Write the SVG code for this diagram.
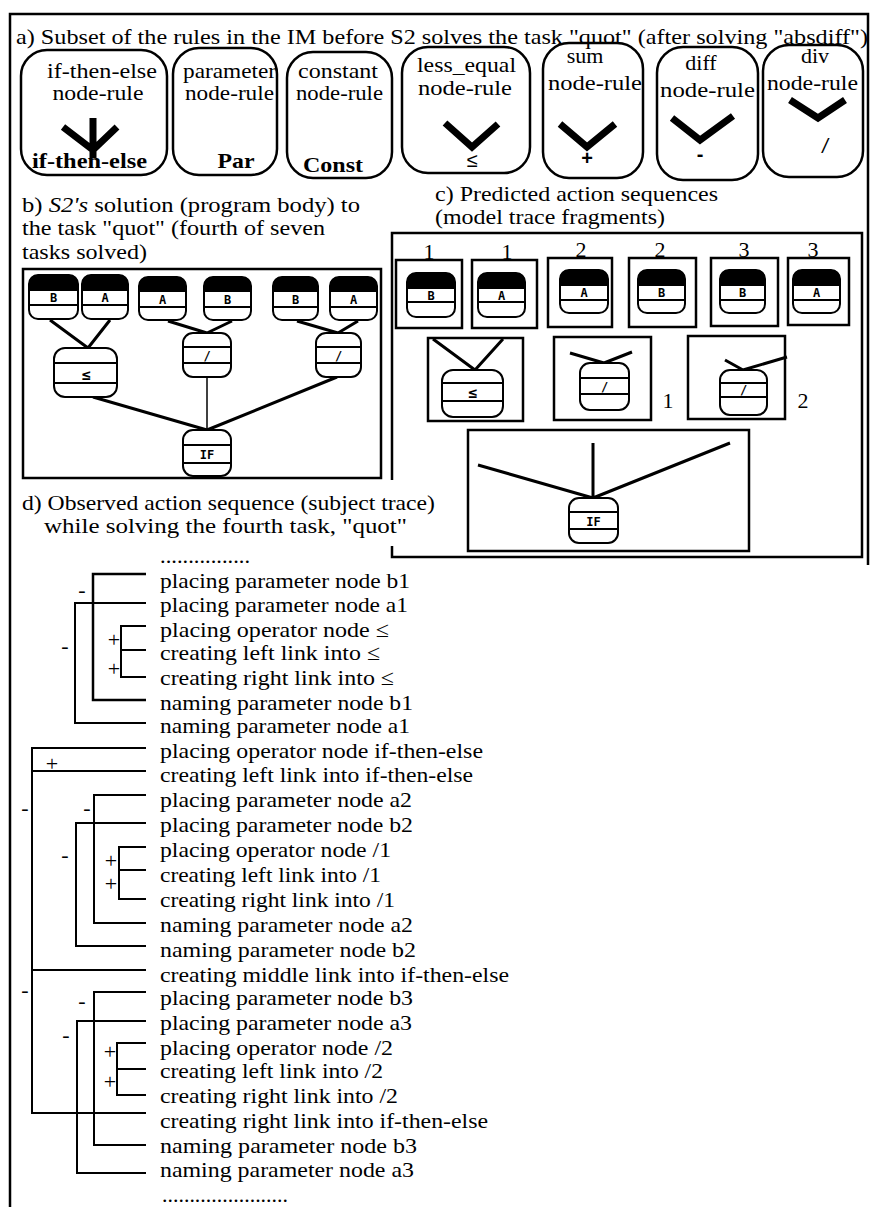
<svg xmlns="http://www.w3.org/2000/svg" width="871" height="1207" viewBox="0 0 871 1207">
<style>
.t{font-family:"Liberation Serif","Times New Roman",serif;font-size:22px;fill:#000}
.bd{font-weight:bold}
.m{text-anchor:middle}
.rule{fill:none;stroke:#000;stroke-width:2.5}
.frame{fill:none;stroke:#000;stroke-width:2.5}
.nd{fill:#fff;stroke:#000;stroke-width:2}
.blk{fill:#000}
.sep{stroke:#000;stroke-width:2}
.lt{font-family:"DejaVu Sans Mono","Liberation Mono",monospace;font-size:12px;font-weight:bold;text-anchor:middle;fill:#000}
.sym{font-family:"Liberation Sans","DejaVu Sans",sans-serif;font-size:20px;text-anchor:middle;fill:#000}
.vv{fill:none;stroke:#000;stroke-width:7}
.ln{fill:none;stroke:#000;stroke-width:3}
.thin{fill:none;stroke:#000;stroke-width:1.5}
.br{fill:none;stroke:#000;stroke-width:2}
.sg{font-family:"Liberation Serif","Times New Roman",serif;font-size:22px;text-anchor:middle;fill:#000}
</style>
<rect width="871" height="1207" fill="#fff"/>
<path class="frame" d="M10,1207 V14 H868 V565"/>

<!-- section a -->
<text class="t" x="16" y="44" textLength="852" lengthAdjust="spacingAndGlyphs">a) Subset of the rules in the IM before S2 solves the task "quot" (after solving "absdiff")</text>
<g id="rule-ifthenelse">
<rect class="rule" x="21" y="50" width="146" height="125" rx="26"/>
<text class="t m" x="102" y="78" textLength="110" lengthAdjust="spacingAndGlyphs">if-then-else</text>
<text class="t m" x="98" y="100" textLength="91" lengthAdjust="spacingAndGlyphs">node-rule</text>
<path class="vv" d="M63,127 L93,150 L117,127 M93,118 V158"/>
<text class="t bd" x="32" y="168" textLength="115" lengthAdjust="spacingAndGlyphs">if-then-else</text>
</g>
<g id="rule-parameter">
<rect class="rule" x="173" y="48" width="104" height="127" rx="26"/>
<text class="t" x="183" y="78" textLength="93" lengthAdjust="spacingAndGlyphs">parameter</text>
<text class="t" x="185" y="100" textLength="89" lengthAdjust="spacingAndGlyphs">node-rule</text>
<text class="t bd m" x="236" y="168" textLength="37" lengthAdjust="spacingAndGlyphs">Par</text>
</g>
<g id="rule-constant">
<rect class="rule" x="287" y="52" width="105" height="126" rx="26"/>
<text class="t" x="298" y="78" textLength="80" lengthAdjust="spacingAndGlyphs">constant</text>
<text class="t" x="296" y="100" textLength="87" lengthAdjust="spacingAndGlyphs">node-rule</text>
<text class="t bd" x="303" y="172" textLength="60" lengthAdjust="spacingAndGlyphs">Const</text>
</g>
<g id="rule-less-equal">
<rect class="rule" x="402" y="47" width="128" height="126" rx="26"/>
<text class="t" x="417" y="72" textLength="99" lengthAdjust="spacingAndGlyphs">less_equal</text>
<text class="t" x="418" y="95" textLength="94" lengthAdjust="spacingAndGlyphs">node-rule</text>
<path class="vv" d="M445,123 L472,147 L498,124"/>
<text class="sym" x="472" y="167">≤</text>
</g>
<g id="rule-sum">
<rect class="rule" x="543" y="43" width="100" height="135" rx="26"/>
<text class="t m" x="585" y="63">sum</text>
<text class="t" x="548" y="90" textLength="94" lengthAdjust="spacingAndGlyphs">node-rule</text>
<path class="vv" d="M560,124 L587,147 L615,124"/>
<text class="sym" x="587" y="165" style="font-weight:bold">+</text>
</g>
<g id="rule-diff">
<rect class="rule" x="657" y="47" width="101" height="133" rx="26"/>
<text class="t m" x="701" y="70">diff</text>
<text class="t" x="660" y="97" textLength="95" lengthAdjust="spacingAndGlyphs">node-rule</text>
<path class="vv" d="M672,118 L700,140 L733,116"/>
<text class="sym" x="700" y="161" style="font-weight:bold">-</text>
</g>
<g id="rule-div">
<rect class="rule" x="763" y="45" width="100" height="132" rx="26"/>
<text class="t m" x="815" y="63">div</text>
<text class="t" x="767" y="90" textLength="91" lengthAdjust="spacingAndGlyphs">node-rule</text>
<path class="vv" d="M790,100 L818,118 L845,100"/>
<text class="sym" x="825" y="153" style="font-style:italic">/</text>
</g>

<!-- section b -->
<text class="t" x="22" y="212" textLength="338" lengthAdjust="spacingAndGlyphs">b) <tspan font-style="italic">S2's</tspan> solution (program body) to</text>
<text class="t" x="22" y="235" textLength="303" lengthAdjust="spacingAndGlyphs">the task "quot" (fourth of seven</text>
<text class="t" x="22" y="259" textLength="125" lengthAdjust="spacingAndGlyphs">tasks solved)</text>
<rect id="panel-b" class="frame" x="23" y="269" width="358" height="209"/>

<g id="connectors-b">
<path class="ln" d="M50,320 L88,348 M110,320 L88,348"/>
<path class="ln" d="M168,321 L207,333 M232,321 L207,333"/>
<path class="ln" d="M297,321 L338,333 M358,321 L338,333"/>
<path class="ln" d="M93,397 L207,430 M337,377 L207,430"/>
<path class="thin" d="M207,377 V430"/>
</g>

<g id="b-param-B1"><rect class="nd" x="29" y="275" width="49" height="44" rx="9"/><path class="blk" d="M29,291 V284 Q29,275 38,275 H69 Q78,275 78,284 V291 Z"/><line class="sep" x1="29" y1="305" x2="78" y2="305"/><text class="lt" x="53.5" y="302">B</text></g>
<g id="b-param-A1"><rect class="nd" x="82" y="275" width="46" height="44" rx="9"/><path class="blk" d="M82,291 V284 Q82,275 91,275 H119 Q128,275 128,284 V291 Z"/><line class="sep" x1="82" y1="305" x2="128" y2="305"/><text class="lt" x="105" y="302">A</text></g>
<g id="b-param-A2"><rect class="nd" x="139" y="277" width="47" height="43" rx="9"/><path class="blk" d="M139,292 V286 Q139,277 148,277 H177 Q186,277 186,286 V292 Z"/><line class="sep" x1="139" y1="307" x2="186" y2="307"/><text class="lt" x="162.5" y="304">A</text></g>
<g id="b-param-B2"><rect class="nd" x="204" y="277" width="47" height="43" rx="9"/><path class="blk" d="M204,292 V286 Q204,277 213,277 H242 Q251,277 251,286 V292 Z"/><line class="sep" x1="204" y1="307" x2="251" y2="307"/><text class="lt" x="227.5" y="304">B</text></g>
<g id="b-param-B3"><rect class="nd" x="273" y="277" width="45" height="43" rx="9"/><path class="blk" d="M273,292 V286 Q273,277 282,277 H309 Q318,277 318,286 V292 Z"/><line class="sep" x1="273" y1="307" x2="318" y2="307"/><text class="lt" x="295.5" y="304">B</text></g>
<g id="b-param-A3"><rect class="nd" x="330" y="277" width="47" height="43" rx="9"/><path class="blk" d="M330,292 V286 Q330,277 339,277 H368 Q377,277 377,286 V292 Z"/><line class="sep" x1="330" y1="307" x2="377" y2="307"/><text class="lt" x="353.5" y="304">A</text></g>
<g id="b-op-le"><rect class="nd" x="54" y="348" width="63" height="49" rx="11"/><line class="sep" x1="54" y1="363" x2="117" y2="363"/><line class="sep" x1="54" y1="383" x2="117" y2="383"/><text class="lt" x="86" y="380" style="font-size:15px">≤</text></g>
<g id="b-op-div1"><rect class="nd" x="183" y="333" width="48" height="44" rx="10"/><line class="sep" x1="183" y1="347" x2="231" y2="347"/><line class="sep" x1="183" y1="363" x2="231" y2="363"/><text class="lt" x="207" y="360">/</text></g>
<g id="b-op-div2"><rect class="nd" x="316" y="333" width="45" height="44" rx="10"/><line class="sep" x1="316" y1="347" x2="361" y2="347"/><line class="sep" x1="316" y1="363" x2="361" y2="363"/><text class="lt" x="338.5" y="360">/</text></g>
<g id="b-op-if"><rect class="nd" x="183" y="430" width="48" height="46" rx="10"/><line class="sep" x1="183" y1="445" x2="231" y2="445"/><line class="sep" x1="183" y1="463" x2="231" y2="463"/><text class="lt" x="207" y="459">IF</text></g>

<!-- section c -->
<text class="t" x="435" y="201" textLength="283" lengthAdjust="spacingAndGlyphs">c) Predicted action sequences</text>
<text class="t" x="435" y="224" textLength="230" lengthAdjust="spacingAndGlyphs">(model trace fragments)</text>
<path id="panel-c" class="frame" d="M392,480 V233 H862 V557 H392 V546"/>

<g id="c-frag-1a"><rect class="frame" x="396" y="260" width="66" height="68"/><text class="t m" x="429" y="259">1</text>
<rect class="nd" x="407" y="273" width="48" height="44" rx="9"/><path class="blk" d="M407,289 V282 Q407,273 416,273 H446 Q455,273 455,282 V289 Z"/><line class="sep" x1="407" y1="302" x2="455" y2="302"/><text class="lt" x="431" y="300">B</text></g>
<g id="c-frag-1b"><rect class="frame" x="472" y="260" width="65" height="68"/><text class="t m" x="507" y="259">1</text>
<rect class="nd" x="478" y="273" width="47" height="44" rx="9"/><path class="blk" d="M478,289 V282 Q478,273 487,273 H516 Q525,273 525,282 V289 Z"/><line class="sep" x1="478" y1="302" x2="525" y2="302"/><text class="lt" x="501.5" y="300">A</text></g>
<g id="c-frag-2a"><rect class="frame" x="548" y="258" width="64" height="69"/><text class="t m" x="581" y="257">2</text>
<rect class="nd" x="560" y="270" width="48" height="43" rx="9"/><path class="blk" d="M560,286 V279 Q560,270 569,270 H599 Q608,270 608,279 V286 Z"/><line class="sep" x1="560" y1="300" x2="608" y2="300"/><text class="lt" x="584" y="297">A</text></g>
<g id="c-frag-2b"><rect class="frame" x="629" y="258" width="67" height="69"/><text class="t m" x="660" y="257">2</text>
<rect class="nd" x="638" y="270" width="47" height="43" rx="9"/><path class="blk" d="M638,286 V279 Q638,270 647,270 H676 Q685,270 685,279 V286 Z"/><line class="sep" x1="638" y1="300" x2="685" y2="300"/><text class="lt" x="661.5" y="297">B</text></g>
<g id="c-frag-3a"><rect class="frame" x="711" y="258" width="67" height="68"/><text class="t m" x="744" y="257">3</text>
<rect class="nd" x="720" y="270" width="45" height="43" rx="9"/><path class="blk" d="M720,286 V279 Q720,270 729,270 H756 Q765,270 765,279 V286 Z"/><line class="sep" x1="720" y1="300" x2="765" y2="300"/><text class="lt" x="742.5" y="297">B</text></g>
<g id="c-frag-3b"><rect class="frame" x="788" y="258" width="61" height="67"/><text class="t m" x="813" y="257">3</text>
<rect class="nd" x="793" y="270" width="47" height="43" rx="9"/><path class="blk" d="M793,286 V279 Q793,270 802,270 H831 Q840,270 840,279 V286 Z"/><line class="sep" x1="793" y1="300" x2="840" y2="300"/><text class="lt" x="816.5" y="297">A</text></g>

<g id="connectors-c">
<path class="ln" d="M433,339 L475,370 M503,339 L475,370"/>
<path class="ln" d="M570,353 L604,363 M632,352 L604,363"/>
<path class="ln" d="M725,360 L743,370 M787,357 L743,370"/>
<path class="ln" d="M478,465 L593,498 M593,443 V498 M730,443 L593,498"/>
</g>

<g id="c-frag-le"><rect class="frame" x="428" y="338" width="95" height="83"/>
<rect class="nd" x="442" y="370" width="61" height="47" rx="11"/><line class="sep" x1="442" y1="383" x2="503" y2="383"/><line class="sep" x1="442" y1="401" x2="503" y2="401"/><text class="lt" x="472.5" y="398" style="font-size:15px">≤</text></g>
<g id="c-frag-div1"><rect class="frame" x="554" y="337" width="97" height="83"/>
<rect class="nd" x="580" y="363" width="49" height="47" rx="10"/><line class="sep" x1="580" y1="378" x2="629" y2="378"/><line class="sep" x1="580" y1="394" x2="629" y2="394"/><text class="lt" x="604.5" y="391">/</text>
<text class="t m" x="668" y="408">1</text></g>
<g id="c-frag-div2"><rect class="frame" x="688" y="336" width="97" height="83"/>
<rect class="nd" x="720" y="370" width="47" height="45" rx="10"/><line class="sep" x1="720" y1="383" x2="767" y2="383"/><line class="sep" x1="720" y1="397" x2="767" y2="397"/><text class="lt" x="743.5" y="394">/</text>
<text class="t m" x="803" y="408">2</text></g>
<g id="c-frag-if"><rect class="frame" x="468" y="430" width="281" height="121"/>
<rect class="nd" x="569" y="498" width="49" height="45" rx="10"/><line class="sep" x1="569" y1="512" x2="618" y2="512"/><line class="sep" x1="569" y1="529" x2="618" y2="529"/><text class="lt" x="593.5" y="526">IF</text></g>

<!-- section d -->
<text class="t" x="22" y="510" textLength="413" lengthAdjust="spacingAndGlyphs">d) Observed action sequence (subject trace)</text>
<text class="t" x="44" y="533" textLength="363" lengthAdjust="spacingAndGlyphs">while solving the fourth task, "quot"</text>

<g id="trace-lines">
<text class="t" x="160" y="563" textLength="90" lengthAdjust="spacingAndGlyphs">................</text>
<text class="t" x="160" y="588" textLength="250" lengthAdjust="spacingAndGlyphs">placing parameter node b1</text>
<text class="t" x="160" y="612" textLength="248" lengthAdjust="spacingAndGlyphs">placing parameter node a1</text>
<text class="t" x="160" y="637" textLength="229" lengthAdjust="spacingAndGlyphs">placing operator node ≤</text>
<text class="t" x="160" y="660" textLength="220" lengthAdjust="spacingAndGlyphs">creating left link into ≤</text>
<text class="t" x="160" y="685" textLength="234" lengthAdjust="spacingAndGlyphs">creating right link into ≤</text>
<text class="t" x="160" y="710" textLength="253" lengthAdjust="spacingAndGlyphs">naming parameter node b1</text>
<text class="t" x="160" y="733" textLength="250" lengthAdjust="spacingAndGlyphs">naming parameter node a1</text>
<text class="t" x="160" y="758" textLength="323" lengthAdjust="spacingAndGlyphs">placing operator node if-then-else</text>
<text class="t" x="160" y="782" textLength="313" lengthAdjust="spacingAndGlyphs">creating left link into if-then-else</text>
<text class="t" x="160" y="807" textLength="252" lengthAdjust="spacingAndGlyphs">placing parameter node a2</text>
<text class="t" x="160" y="832" textLength="253" lengthAdjust="spacingAndGlyphs">placing parameter node b2</text>
<text class="t" x="160" y="857" textLength="231" lengthAdjust="spacingAndGlyphs">placing operator node /1</text>
<text class="t" x="160" y="882" textLength="221" lengthAdjust="spacingAndGlyphs">creating left link into /1</text>
<text class="t" x="160" y="907" textLength="235" lengthAdjust="spacingAndGlyphs">creating right link into /1</text>
<text class="t" x="160" y="932" textLength="253" lengthAdjust="spacingAndGlyphs">naming parameter node a2</text>
<text class="t" x="160" y="957" textLength="256" lengthAdjust="spacingAndGlyphs">naming parameter node b2</text>
<text class="t" x="160" y="982" textLength="349" lengthAdjust="spacingAndGlyphs">creating middle link into if-then-else</text>
<text class="t" x="160" y="1005" textLength="253" lengthAdjust="spacingAndGlyphs">placing parameter node b3</text>
<text class="t" x="160" y="1030" textLength="252" lengthAdjust="spacingAndGlyphs">placing parameter node a3</text>
<text class="t" x="160" y="1055" textLength="233" lengthAdjust="spacingAndGlyphs">placing operator node /2</text>
<text class="t" x="160" y="1078" textLength="223" lengthAdjust="spacingAndGlyphs">creating left link into /2</text>
<text class="t" x="160" y="1103" textLength="238" lengthAdjust="spacingAndGlyphs">creating right link into /2</text>
<text class="t" x="160" y="1128" textLength="328" lengthAdjust="spacingAndGlyphs">creating right link into if-then-else</text>
<text class="t" x="160" y="1153" textLength="257" lengthAdjust="spacingAndGlyphs">naming parameter node b3</text>
<text class="t" x="160" y="1177" textLength="254" lengthAdjust="spacingAndGlyphs">naming parameter node a3</text>
<text class="t" x="162" y="1202" textLength="126" lengthAdjust="spacingAndGlyphs">.......................</text>
</g>

<g id="trace-brackets">
<path class="br" d="M146,574 H93 V700 H146" style="stroke-width:2.5"/>
<path class="br" d="M146,603 H75 V723 H146"/>
<path class="br" d="M146,626 H121 V677 H146 M121,650 H146"/>
<path class="br" d="M146,748 H32 V1113 H146 M32,771 H146 M32,970 H146"/>
<path class="br" d="M146,795 H94 V923 H146"/>
<path class="br" d="M146,823 H76 V946 H146"/>
<path class="br" d="M146,847 H119 V899 H146 M119,870 H146"/>
<path class="br" d="M146,992 H94 V1145 H146"/>
<path class="br" d="M146,1021 H77 V1173 H146"/>
<path class="br" d="M146,1043 H117 V1095 H146 M117,1069 H146"/>
</g>
<g id="trace-signs">
<text class="sg" x="82" y="597">-</text>
<text class="sg" x="65" y="653">-</text>
<text class="sg" x="114" y="647">+</text>
<text class="sg" x="114" y="676">+</text>
<text class="sg" x="52" y="771">+</text>
<text class="sg" x="25" y="815">-</text>
<text class="sg" x="25" y="997">-</text>
<text class="sg" x="87" y="815">-</text>
<text class="sg" x="65" y="862">-</text>
<text class="sg" x="111" y="868">+</text>
<text class="sg" x="111" y="891">+</text>
<text class="sg" x="82" y="1008">-</text>
<text class="sg" x="66" y="1042">-</text>
<text class="sg" x="110" y="1059">+</text>
<text class="sg" x="110" y="1089">+</text>
</g>
</svg>
